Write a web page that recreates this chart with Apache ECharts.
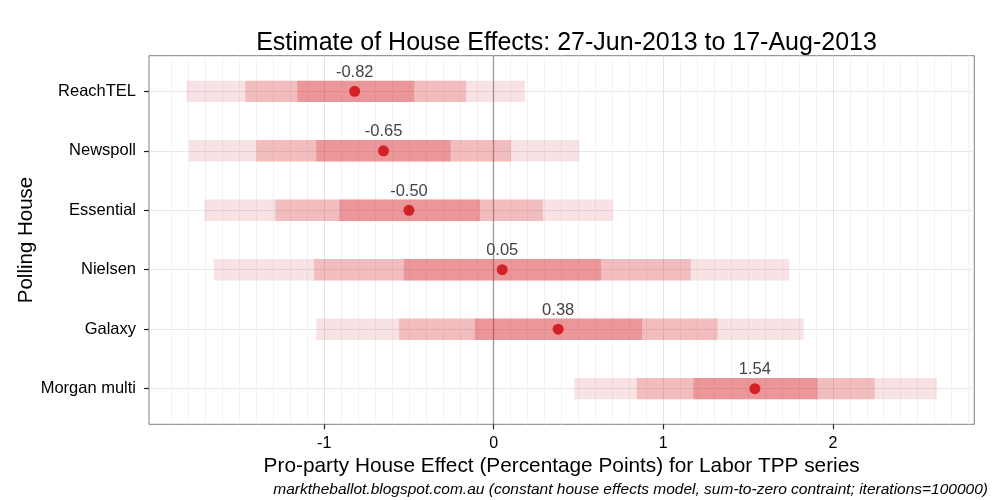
<!DOCTYPE html>
<html>
<head>
<meta charset="utf-8">
<script src="https://cdn.jsdelivr.net/npm/echarts@6/dist/echarts.min.js"></script>
<style>html,body{margin:0;padding:0;background:#fff}#c{width:1000px;height:500px}</style>
</head>
<body>
<div id="c"></div>
<script>
const houses = ['ReachTEL', 'Newspoll', 'Essential', 'Nielsen', 'Galaxy', 'Morgan multi'];
const effect = [-0.82, -0.65, -0.50, 0.05, 0.38, 1.54];
const outerLo = [-1.812, -1.798, -1.706, -1.651, -1.047, 0.476];
const outerHi = [0.184, 0.504, 0.703, 1.742, 1.827, 2.613];
const midLo = [-1.465, -1.400, -1.288, -1.060, -0.558, 0.844];
const midHi = [-0.163, 0.102, 0.290, 1.162, 1.320, 2.246];
const innerLo = [-1.158, -1.047, -0.911, -0.530, -0.112, 1.178];
const innerHi = [-0.469, -0.255, -0.081, 0.633, 0.875, 1.910];
const xTicks = [-1, 0, 1, 2];
const yTicks = [1, 2, 3, 4, 5, 6];

const font = 'Liberation Sans, Arial, Helvetica, sans-serif';
const minorBreaks = [];
for (let i = -20; i <= 28; i++) { if (i % 10 !== 0) minorBreaks.push(i / 10); }

function bandSeries(lo, hi, color, z) {
  return {
    type: 'custom', z: z, silent: true,
    encode: { x: [0, 1], y: 2 },
    data: houses.map((h, i) => [lo[i], hi[i], i + 1]),
    renderItem: function (params, api) {
      const y = api.value(2);
      const p1 = api.coord([api.value(0), y]);
      const p2 = api.coord([api.value(1), y]);
      const h = Math.abs(api.size([0, 0.36])[1]);
      return { type: 'rect', shape: { x: p1[0], y: p1[1] - h / 2, width: p2[0] - p1[0], height: h }, style: { fill: color } };
    }
  };
}

const chart = echarts.init(document.getElementById('c'), null, { renderer: 'canvas' });
chart.setOption({
  animation: false,
  backgroundColor: '#ffffff',
  title: {
    text: 'Estimate of House Effects: 27-Jun-2013 to 17-Aug-2013',
    left: 561.5, top: 26, textAlign: 'center',
    textStyle: { fontFamily: font, fontSize: 25, fontWeight: 'normal', color: '#000' }
  },
  graphic: [{
    type: 'text', right: 12, top: 482,
    style: { text: 'marktheballot.blogspot.com.au (constant house effects model, sum-to-zero contraint; iterations=100000)', font: 'italic 15.5px ' + font, fill: '#000' }
  }],
  grid: { left: 149, right: 25.7, top: 55.7, bottom: 75.7, show: true, borderColor: '#7f7f7f', borderWidth: 1, backgroundColor: '#fff' },
  xAxis: {
    type: 'value', min: -2.033, max: 2.834,
    name: 'Pro-party House Effect (Percentage Points) for Labor TPP series',
    nameLocation: 'middle', nameGap: 31, nameMoveOverlap: false,
    nameTextStyle: { fontFamily: font, fontSize: 20.8, color: '#000' },
    axisLine: { show: false, onZero: false },
    axisTick: { show: true, customValues: xTicks, length: 5, lineStyle: { color: '#222', width: 1.2 } },
    axisLabel: { customValues: xTicks, fontFamily: font, fontSize: 16, color: '#000', margin: 11 },
    splitLine: { show: true, lineStyle: { color: '#e4e4e4', width: 1 } }
  },
  yAxis: {
    type: 'value', min: 0.4, max: 6.6, inverse: true,
    name: 'Polling House', nameLocation: 'middle', nameGap: 112, nameRotate: 90, nameMoveOverlap: false,
    nameTextStyle: { fontFamily: font, fontSize: 20.5, color: '#000' },
    axisLine: { show: false, onZero: false },
    axisTick: { show: true, customValues: yTicks, length: 5, lineStyle: { color: '#222', width: 1.2 } },
    axisLabel: { customValues: yTicks, fontFamily: font, fontSize: 16.5, color: '#000', margin: 13,
      formatter: function (v) { return houses[Math.round(v) - 1] || ''; } },
    splitLine: { show: true, lineStyle: { color: '#e8e8e8', width: 1 } }
  },
  series: [
    {
      type: 'line', data: [], silent: true, z: 1,
      markLine: {
        z: 1, silent: true, symbol: 'none', label: { show: false }, animation: false,
        lineStyle: { color: '#f2f2f2', width: 1, type: 'solid' },
        data: minorBreaks.map(v => ({ xAxis: v }))
      }
    },
    {
      type: 'line', data: [], silent: true, z: 2,
      markLine: {
        z: 2, silent: true, symbol: 'none', label: { show: false }, animation: false,
        lineStyle: { color: '#9a9a9a', width: 1.3, type: 'solid' },
        data: [{ xAxis: 0 }]
      }
    },
    bandSeries(outerLo, outerHi, 'rgba(212,32,39,0.13)', 3),
    bandSeries(midLo, midHi, 'rgba(212,32,39,0.19)', 4),
    bandSeries(innerLo, innerHi, 'rgba(212,32,39,0.24)', 5),
    {
      type: 'scatter', z: 6, symbolSize: 11,
      itemStyle: { color: '#d42027', opacity: 1 },
      data: effect.map((v, i) => [v, i + 1]),
      label: { show: true, position: 'top', distance: 5, fontFamily: font, fontSize: 16.5, color: '#444',
        formatter: function (p) { return p.value[0].toFixed(2); } }
    }
  ]
});
</script>
</body>
</html>
